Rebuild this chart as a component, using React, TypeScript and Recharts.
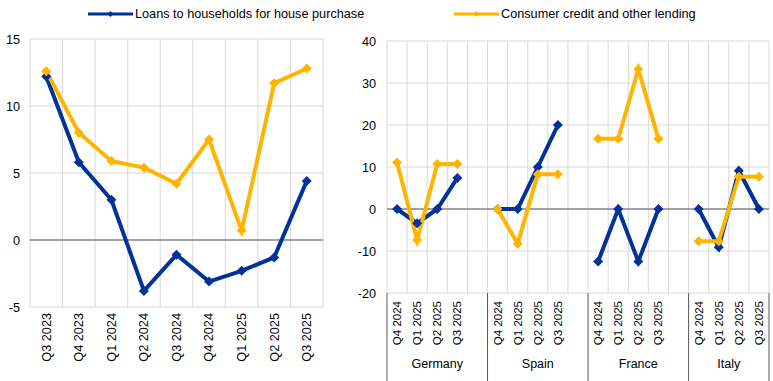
import React from "react";
import { LineChart, Line, XAxis, YAxis, CartesianGrid, ReferenceLine } from "recharts";

// ---------- Data ----------
const seriesNames = ["Loans to households for house purchase", "Consumer credit and other lending"];

const euroQuarters = ["Q3 2023", "Q4 2023", "Q1 2024", "Q2 2024", "Q3 2024", "Q4 2024", "Q1 2025", "Q2 2025", "Q3 2025"];
const euroLoans = [12.2, 5.8, 3.0, -3.8, -1.1, -3.1, -2.3, -1.3, 4.4];
const euroConsumer = [12.6, 8.0, 5.9, 5.4, 4.2, 7.5, 0.7, 11.7, 12.8];
const euroYTicks = [-5, 0, 5, 10, 15];

const countries = ["Germany", "Spain", "France", "Italy"];
const countryQuarters = ["Q4 2024", "Q1 2025", "Q2 2025", "Q3 2025"];
const germanyLoans = [0, -3.4, 0, 7.4];
const germanyConsumer = [11.1, -7.4, 10.7, 10.7];
const spainLoans = [0, 0, 10, 20];
const spainConsumer = [0, -8.3, 8.3, 8.3];
const franceLoans = [-12.5, 0, -12.5, 0];
const franceConsumer = [16.7, 16.7, 33.3, 16.7];
const italyLoans = [0, -9.1, 9.1, 0];
const italyConsumer = [-7.7, -7.7, 7.7, 7.7];
const countryYTicks = [-20, -10, 0, 10, 20, 30, 40];

// ---------- Styles ----------
const BLUE = "#003299";
const YELLOW = "#FFB400";
const GRID = "#d9d9d9";
const ZERO = "#595959";
const FONT = "Arial, 'Liberation Sans', sans-serif";

// ---------- Built tables ----------
const euroData = euroQuarters.map((q, i) => ({ x: i + 0.5, loans: euroLoans[i], consumer: euroConsumer[i] }));
const euroTicks = euroData.map((d) => d.x);

const countryLoans = [germanyLoans, spainLoans, franceLoans, italyLoans];
const countryConsumer = [germanyConsumer, spainConsumer, franceConsumer, italyConsumer];
const SLOTS_PER_GROUP = countryQuarters.length + 1;
const TOTAL_SLOTS = countries.length * SLOTS_PER_GROUP - 1;

const countryData: { x: number; loans: number | null; consumer: number | null }[] = [];
countries.forEach((_, g) => {
  countryQuarters.forEach((_, q) => {
    countryData.push({ x: g * SLOTS_PER_GROUP + q + 0.5, loans: countryLoans[g][q], consumer: countryConsumer[g][q] });
  });
  if (g < countries.length - 1) {
    countryData.push({ x: g * SLOTS_PER_GROUP + countryQuarters.length + 0.5, loans: null, consumer: null });
  }
});
const countryTicks = countryData.filter((d) => d.loans !== null).map((d) => d.x);
const groupBoundaries = countries.map((_, g) => g * SLOTS_PER_GROUP).concat([TOTAL_SLOTS]);
const groupCenters = countries.map((_, g) => {
  const start = g * SLOTS_PER_GROUP;
  const end = Math.min(start + SLOTS_PER_GROUP, TOTAL_SLOTS);
  return (start + end) / 2;
});
const allCountryTicks = Array.from(new Set([...countryTicks, ...groupBoundaries, ...groupCenters])).sort((a, b) => a - b);

// ---------- Helpers ----------
const boundaryGen = (n: number) => (args: any) => {
  const { offset } = args;
  const out: number[] = [];
  for (let k = 0; k <= n; k++) out.push(offset.left + (offset.width * k) / n);
  return out;
};

const Diamond = (color: string, r: number) => (props: any) => {
  const { cx, cy, value, index } = props;
  if (value === null || value === undefined || cx == null || cy == null || isNaN(cy)) return <g key={`e${index}`} />;
  return (
    <polygon
      key={`d${index}`}
      points={`${cx},${cy - r} ${cx + r},${cy} ${cx},${cy + r} ${cx - r},${cy}`}
      fill={color}
      stroke="none"
    />
  );
};

const RotLabel = ({ x, y, label, fontSize }: { x: number; y: number; label: string; fontSize: number }) => (
  <text
    x={x}
    y={y}
    transform={`rotate(-90, ${x}, ${y})`}
    textAnchor="end"
    dy="0.35em"
    fontSize={fontSize}
    fontFamily={FONT}
    fill="#000"
  >
    {label}
  </text>
);

const EuroTick = (props: any) => {
  const { x, y, payload } = props;
  return <RotLabel x={x} y={y + 6} label={euroQuarters[Math.floor(payload.value)]} fontSize={12.7} />;
};

const Q_AXIS_H = 58;
const G_AXIS_H = 30;

const CountryTick = (props: any) => {
  const { x, y, payload } = props;
  const v = payload.value;
  const parts: React.ReactNode[] = [];
  if (groupBoundaries.includes(v)) {
    parts.push(<line key="sep" x1={x} x2={x} y1={y} y2={y + Q_AXIS_H + G_AXIS_H} stroke={ZERO} strokeWidth={1} />);
  }
  if (countryTicks.includes(v)) {
    parts.push(
      <RotLabel key="q" x={x} y={y + 8} label={countryQuarters[Math.floor(v) % SLOTS_PER_GROUP]} fontSize={11.5} />
    );
  }
  const ci = groupCenters.indexOf(v);
  if (ci >= 0) {
    parts.push(
      <text key="c" x={x} y={y + Q_AXIS_H + 13} dy="0.35em" textAnchor="middle" fontSize={12.5} fontFamily={FONT} fill="#000">
        {countries[ci]}
      </text>
    );
  }
  return <g>{parts}</g>;
};

const LegendItem = ({ color, label, left }: { color: string; label: string; left: number }) => (
  <div style={{ position: "absolute", left, top: 5, height: 18, display: "flex", alignItems: "center", whiteSpace: "nowrap" }}>
    <svg width={46} height={10} style={{ display: "block" }}>
      <line x1={0} x2={45} y1={5} y2={5} stroke={color} strokeWidth={3} />
      <polygon points="22.5,2 25.5,5 22.5,8 19.5,5" fill={color} />
    </svg>
    <span style={{ fontFamily: FONT, fontSize: 12.7, color: "#000", marginLeft: 1 }}>{label}</span>
  </div>
);

export default function App() {
  const yTickStyle = { fontSize: 12.7, fontFamily: FONT, fill: "#000" };
  return (
    <div style={{ position: "absolute", left: 0, top: 0, width: 773, height: 381, background: "#fff", overflow: "hidden" }}>
      <div style={{ position: "absolute", left: 0, top: 0 }}>
        <LineChart width={340} height={381} data={euroData} margin={{ top: 39, right: 17, bottom: 0, left: 0 }}>
          <CartesianGrid stroke={GRID} verticalCoordinatesGenerator={boundaryGen(euroQuarters.length)} />
          <XAxis
            type="number"
            dataKey="x"
            domain={[0, euroQuarters.length]}
            ticks={euroTicks}
            interval={0}
            axisLine={false}
            tickLine={false}
            tickSize={0}
            tickMargin={0}
            height={74}
            tick={EuroTick}
          />
          <YAxis
            type="number"
            domain={[-5, 15]}
            ticks={euroYTicks}
            interval={0}
            axisLine={false}
            tickLine={false}
            tickSize={0}
            tickMargin={10}
            width={30}
            tick={yTickStyle}
          />
          <ReferenceLine y={0} stroke={ZERO} strokeWidth={1} />
          <Line
            dataKey="loans"
            name={seriesNames[0]}
            stroke={BLUE}
            strokeWidth={4}
            dot={Diamond(BLUE, 5)}
            activeDot={false}
            isAnimationActive={false}
          />
          <Line
            dataKey="consumer"
            name={seriesNames[1]}
            stroke={YELLOW}
            strokeWidth={4}
            dot={Diamond(YELLOW, 5)}
            activeDot={false}
            isAnimationActive={false}
          />
        </LineChart>
      </div>

      <div style={{ position: "absolute", left: 345, top: 0 }}>
        <LineChart width={428} height={381} data={countryData} margin={{ top: 41, right: 4, bottom: 0, left: 0 }}>
          <CartesianGrid stroke={GRID} verticalCoordinatesGenerator={boundaryGen(TOTAL_SLOTS)} />
          <XAxis
            type="number"
            dataKey="x"
            domain={[0, TOTAL_SLOTS]}
            ticks={allCountryTicks}
            interval={0}
            axisLine={false}
            tickLine={false}
            tickSize={0}
            tickMargin={0}
            height={Q_AXIS_H + G_AXIS_H}
            tick={CountryTick}
          />
          <YAxis
            type="number"
            domain={[-20, 40]}
            ticks={countryYTicks}
            interval={0}
            axisLine={false}
            tickLine={false}
            tickSize={0}
            tickMargin={11}
            width={42}
            tick={yTickStyle}
          />
          <ReferenceLine y={0} stroke={ZERO} strokeWidth={1} />
          <Line
            dataKey="loans"
            name={seriesNames[0]}
            stroke={BLUE}
            strokeWidth={4}
            dot={Diamond(BLUE, 5)}
            activeDot={false}
            connectNulls={false}
            isAnimationActive={false}
          />
          <Line
            dataKey="consumer"
            name={seriesNames[1]}
            stroke={YELLOW}
            strokeWidth={4}
            dot={Diamond(YELLOW, 5)}
            activeDot={false}
            connectNulls={false}
            isAnimationActive={false}
          />
        </LineChart>
      </div>

      <LegendItem color={BLUE} label={seriesNames[0]} left={88} />
      <LegendItem color={YELLOW} label={seriesNames[1]} left={454} />
    </div>
  );
}
